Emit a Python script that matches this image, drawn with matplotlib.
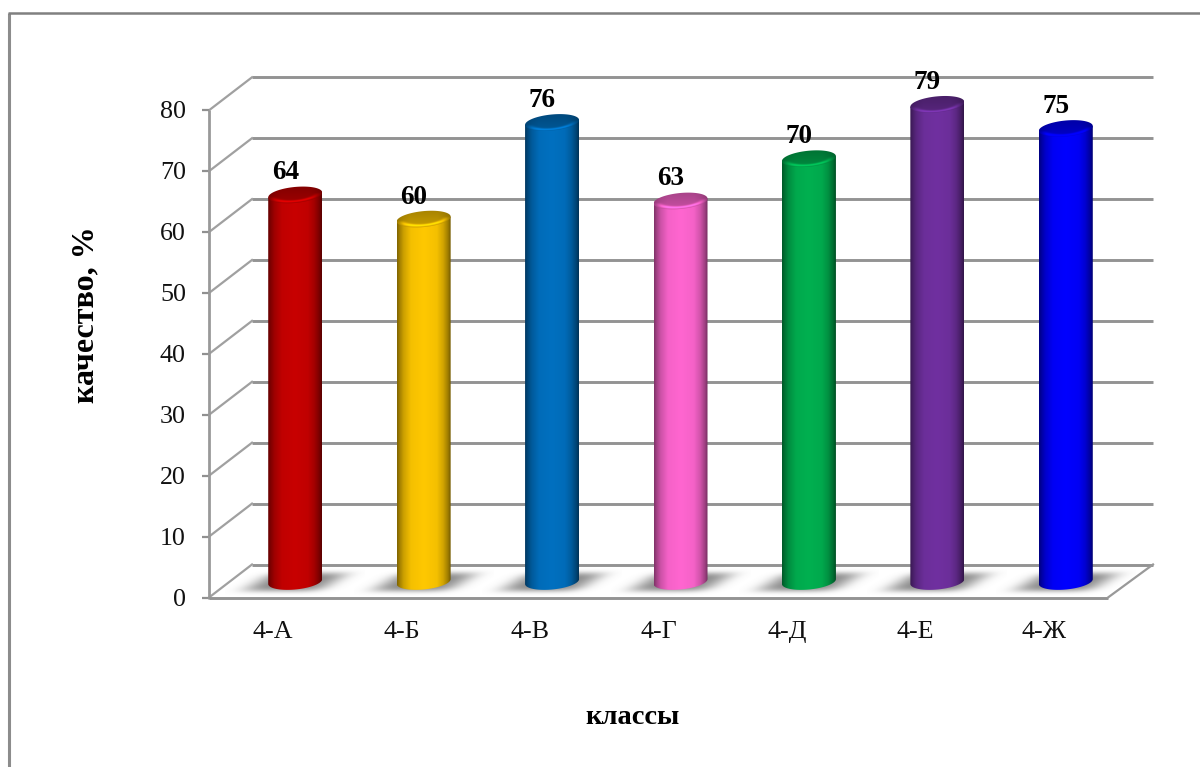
from matplotlib import pyplot as plt
from matplotlib.path import Path
from matplotlib.patches import PathPatch
import numpy as np

categories = ['4-А', '4-Б', '4-В', '4-Г', '4-Д', '4-Е', '4-Ж']
values = [64, 60, 76, 63, 70, 79, 75]
bar_colors = ['#c80000', '#ffc800', '#0070c0', '#ff66d0', '#00b050', '#7030a0', '#0000ff']
y_ticks = [0, 10, 20, 30, 40, 50, 60, 70, 80]

FRONT_L, FRONT_R, FRONT_0, FRONT_K = 209, 1108, 597.5, 6.09
BACK_L, BACK_R, BACK_0, BACK_K = 252, 1153, 564.5, 6.09
BAR_0, BAR_K, BAR_A, BAR_B, BAR_TILT = 581.5, 6.04, 27, 8, 0.09
GRID = '#939393'

plt.rcParams['font.family'] = ['Liberation Serif', 'DejaVu Serif']

fig = plt.figure(figsize=(12, 7.67), dpi=100)
ax = fig.add_axes([0, 0, 1, 1])
ax.axis('off')


def ellipse(cx, cy, t):
    return cx + BAR_A * np.cos(t), cy + BAR_B * np.sin(t) - BAR_TILT * BAR_A * np.cos(t)


def shade(color, factors):
    rgb = np.array(plt.matplotlib.colors.to_rgb(color))
    f = np.asarray(factors)[..., None]
    return np.clip(rgb * f, 0, 1)


# outer frame, only top and left show
ax.plot([8.5, 8.5], [13, 767], color='#8c8c8c', lw=2.2, solid_capstyle='butt')
ax.plot([8, 1200], [13, 13], color='#808080', lw=1.8, solid_capstyle='butt')

# walls and floor
for v in y_ticks:
    yf = FRONT_0 - FRONT_K * v
    yb = BACK_0 - BACK_K * v
    ax.plot([BACK_L, BACK_R], [yb, yb], color=GRID, lw=2.1, solid_capstyle='butt', zorder=1)
    ax.plot([FRONT_L, BACK_L], [yf, yb], color='#a0a0a0', lw=1.6, zorder=1)
    ax.plot([FRONT_L - 7, FRONT_L], [yf, yf], color='#909090', lw=1.6, solid_capstyle='butt', zorder=1)
    ax.text(186, yf + 2, str(v), ha='right', va='center', fontsize=18.7, color='#111111')
ax.plot([FRONT_L, FRONT_L], [FRONT_0 - FRONT_K * 80, FRONT_0 + 1], color='#999999', lw=2, solid_capstyle='butt', zorder=1)
ax.plot([FRONT_L, FRONT_R], [FRONT_0, FRONT_0], color=GRID, lw=2.1, solid_capstyle='butt', zorder=1)
ax.plot([FRONT_R, BACK_R], [FRONT_0, BACK_0], color='#999999', lw=1.6, zorder=1)

# side shading across a cylinder, left to right
pos = np.linspace(0, 1, 108)
side = np.interp(pos, [0, 0.04, 0.12, 0.26, 0.5, 0.74, 0.86, 0.95, 1],
                 [0.5, 0.62, 0.8, 0.96, 1.0, 0.96, 0.82, 0.62, 0.45])

# cap shading: dark top, light rim following the front edge
cap_x, cap_y = np.meshgrid(np.linspace(-1, 1, 108), np.linspace(-1.3, 1.3, 60))
cap_r = np.hypot(cap_x, cap_y + BAR_TILT * BAR_A / BAR_B * cap_x)
cap_front = np.clip((cap_y + BAR_TILT * BAR_A / BAR_B * cap_x) * 1.6, 0, 1)
cap_rim = np.exp(-((cap_r - 0.84) / 0.13) ** 2) * cap_front
cap_f = (0.72 + 0.06 * cap_y + 0.42 * cap_rim) * (0.6 + 0.4 * np.clip(side[None, :] + 0.05, 0, 1))

# bars
step = (FRONT_R - FRONT_L) / len(categories)
for i, (cat, v, col) in enumerate(zip(categories, values, bar_colors)):
    cat_x = FRONT_L + (i + 0.5) * step
    cx = cat_x + 22
    top = BAR_0 - BAR_K * v

    # floor shadow
    sx, sy = np.meshgrid(np.arange(cx - 70, cx + 70), np.arange(566.0, 596.0))
    u = (sx - cx + 1.6 * (sy - BAR_0)) / 40
    w = (sy - BAR_0) / 9.5
    alpha = np.exp(-np.abs(u) ** 4) * np.exp(-np.abs(w) ** 4) * 0.95
    rgba = np.zeros(sx.shape + (4,))
    rgba[..., :3] = 0.5
    rgba[..., 3] = alpha
    ax.imshow(rgba, extent=(cx - 70, cx + 70, 596, 566), aspect='auto', interpolation='bilinear', zorder=2)

    # cylinder side
    t = np.linspace(0, np.pi, 60)
    bx, by = ellipse(cx, BAR_0, t)
    tx, ty = ellipse(cx, top, np.array([np.pi, 0.0]))
    body = Path(np.column_stack([np.r_[bx, tx], np.r_[by, ty]]))
    im = ax.imshow(shade(col, side)[None, :, :], extent=(cx - BAR_A, cx + BAR_A, BAR_0 + 12, top - 4),
                   aspect='auto', interpolation='bilinear', zorder=3)
    im.set_clip_path(PathPatch(body, transform=ax.transData))

    # cylinder cap
    t = np.linspace(0, 2 * np.pi, 120)
    ex, ey = ellipse(cx, top, t)
    cap = Path(np.column_stack([ex, ey]))
    im = ax.imshow(shade(col, cap_f), extent=(cx - BAR_A, cx + BAR_A, top + 1.3 * BAR_B, top - 1.3 * BAR_B),
                   aspect='auto', interpolation='bilinear', zorder=4)
    im.set_clip_path(PathPatch(cap, transform=ax.transData))

    ax.text(cx - 10, top - 22, str(v), ha='center', va='center', fontsize=19.5,
            fontweight='bold', color='black', zorder=6)
    ax.text(cat_x, 632, cat, ha='center', va='center', fontsize=18.7, color='#111111')

ax.text(86, 315, 'качество, %', rotation=90, ha='center', va='center', fontsize=23,
        fontweight='bold', color='black')
ax.text(632, 718, 'классы', ha='center', va='center', fontsize=20.5, fontweight='bold', color='black')

ax.set_xlim(0, 1200)
ax.set_ylim(767, 0)
fig.savefig('out.png', dpi=100, facecolor='white')
